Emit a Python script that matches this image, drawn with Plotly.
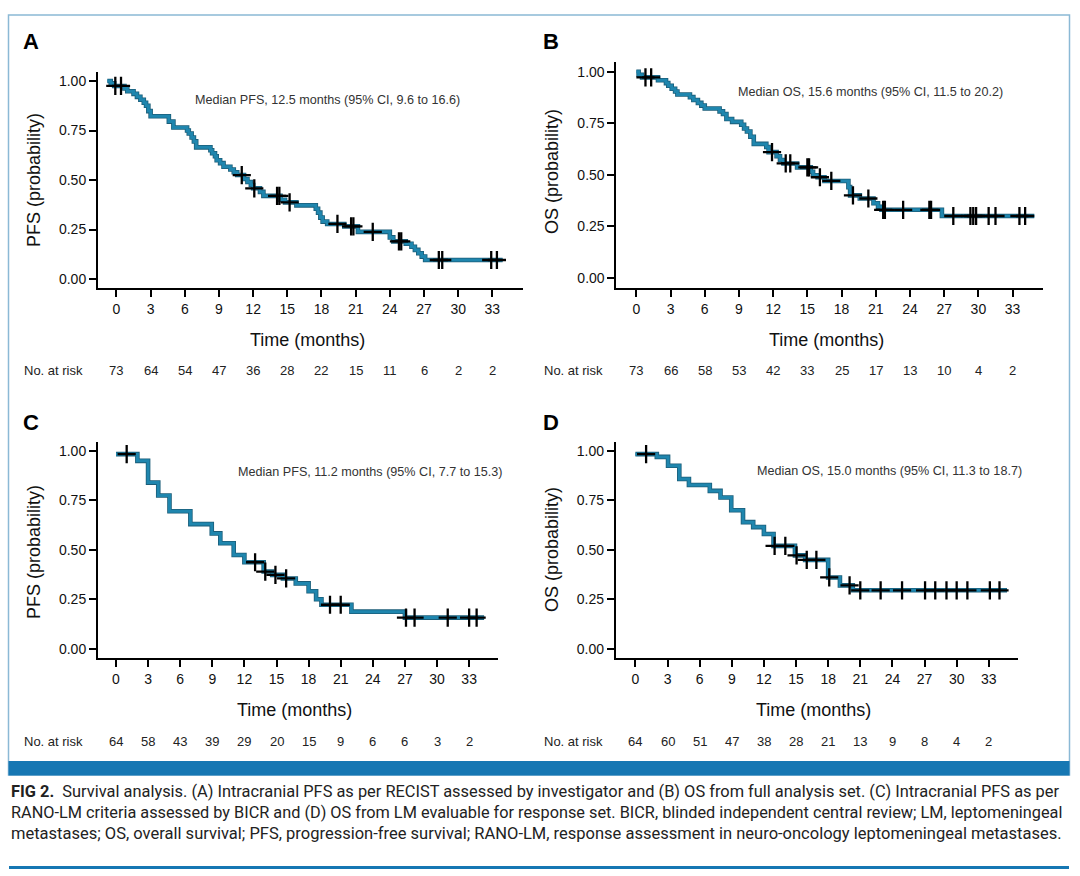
import plotly.graph_objects as go
import numpy as np

# ---------------- data ----------------
TICKS = list(range(0, 34, 3))

A_time = [-0.8, -0.5, -0.2, 0.7, 0.95, 1.5, 1.8, 2.1, 2.4, 2.6, 2.8, 3.0, 4.6, 5.0, 6.2, 6.35, 6.6, 6.8, 7.0,
          8.25, 8.4, 8.65, 8.8, 9.1, 9.4, 10.0, 10.3, 10.6, 11.2, 11.5, 11.8, 12.0, 12.6, 12.9, 14.4, 14.8, 15.8,
          17.5, 17.7, 17.9, 18.1, 18.5, 20.0, 21.2, 24.0, 24.3, 25.4, 25.9, 26.2, 26.5, 26.8, 27.1]
A_surv = [1.0, 0.988, 0.975, 0.962, 0.948, 0.935, 0.92, 0.905, 0.89, 0.875, 0.848, 0.822, 0.795, 0.765, 0.75, 0.735,
          0.715, 0.695, 0.665, 0.65, 0.635, 0.62, 0.60, 0.585, 0.567, 0.553, 0.539, 0.525, 0.505, 0.49, 0.475, 0.458,
          0.44, 0.42, 0.40, 0.387, 0.372, 0.355, 0.335, 0.31, 0.29, 0.278, 0.266, 0.238, 0.21, 0.19, 0.178, 0.163,
          0.147, 0.13, 0.113, 0.096]
A_censor = [-0.1, 0.4, 11.0, 12.1, 14.1, 14.3, 15.2, 19.4, 20.6, 20.8, 22.5, 24.8, 25.0, 28.3, 28.6, 32.9, 33.4]
A_end = 33.9
A_risk = [73, 64, 54, 47, 36, 28, 22, 15, 11, 6, 2, 2]

B_time = [0, 0.2, 0.5, 1.9, 2.6, 2.8, 3.1, 3.4, 3.6, 4.7, 5.0, 5.4, 5.7, 6.0, 7.3, 7.6, 7.9, 8.4, 9.2, 9.45, 9.7,
          10.0, 10.3, 11.4, 11.6, 12.3, 12.6, 12.9, 14.1, 15.3, 15.5, 15.9, 16.5, 18.6, 18.75, 19.6, 20.8, 21.2,
          21.5, 26.8]
B_surv = [1.0, 0.986, 0.973, 0.959, 0.945, 0.932, 0.918, 0.904, 0.89, 0.877, 0.863, 0.849, 0.836, 0.822, 0.808,
          0.795, 0.771, 0.757, 0.743, 0.725, 0.71, 0.685, 0.65, 0.635, 0.61, 0.59, 0.572, 0.555, 0.536, 0.515,
          0.498, 0.488, 0.47, 0.44, 0.40, 0.385, 0.362, 0.345, 0.33, 0.30]
B_censor = [0.8, 1.3, 11.9, 13.1, 13.5, 15.0, 15.15, 16.1, 17.1, 19.0, 20.35, 21.65, 21.8, 23.4, 25.7, 25.85,
            27.8, 29.3, 29.55, 29.8, 30.9, 31.5, 33.6, 34.1]
B_end = 34.9
B_risk = [73, 66, 58, 53, 42, 33, 25, 17, 13, 10, 4, 2]

C_time = [0, 2.0, 3.0, 3.95, 5.0, 6.95, 8.95, 9.75, 11.0, 12.0, 13.8, 14.6, 15.6, 16.8, 18.0, 18.7, 19.2, 22.0, 27.0]
C_surv = [0.984, 0.95, 0.84, 0.775, 0.695, 0.63, 0.583, 0.533, 0.474, 0.437, 0.39, 0.373, 0.355, 0.33, 0.29,
          0.25, 0.222, 0.187, 0.157]
C_censor = [1.0, 13.0, 13.95, 14.9, 15.9, 20.0, 21.0, 27.1, 27.9, 31.0, 33.0, 33.7]
C_end = 34.4
C_risk = [64, 58, 43, 39, 29, 20, 15, 9, 6, 6, 3, 2]

D_time = [0, 2.0, 3.05, 4.1, 5.0, 6.95, 7.95, 8.95, 10.05, 11.0, 12.0, 12.9, 14.9, 15.85, 18.0, 19.1, 20.3]
D_surv = [0.984, 0.97, 0.925, 0.858, 0.828, 0.798, 0.765, 0.70, 0.64, 0.615, 0.58, 0.52, 0.472, 0.449, 0.36,
          0.32, 0.295]
D_censor = [1.0, 13.0, 14.0, 15.05, 16.0, 16.9, 18.1, 20.0, 21.0, 22.9, 24.9, 27.05, 28.0, 29.05, 30.0, 31.0,
            33.1, 34.0]
D_end = 34.7
D_risk = [64, 60, 51, 47, 38, 28, 21, 13, 9, 8, 4, 2]

MEDIANS = ["Median PFS, 12.5 months (95% CI, 9.6 to 16.6)",
           "Median OS, 15.6 months (95% CI, 11.5 to 20.2)",
           "Median PFS, 11.2 months (95% CI, 7.7 to 15.3)",
           "Median OS, 15.0 months (95% CI, 11.3 to 18.7)"]
YTITLES = ["PFS (probability)", "OS (probability)", "PFS (probability)", "OS (probability)"]
LETTERS = ["A", "B", "C", "D"]
CAPTION = [
    "<b>FIG 2.</b>\u00a0 Survival analysis. (A) Intracranial PFS as per RECIST assessed by investigator and (B) OS from full analysis set. (C) Intracranial PFS as per",
    "RANO-LM criteria assessed by BICR and (D) OS from LM evaluable for response set. BICR, blinded independent central review; LM, leptomeningeal",
    "metastases; OS, overall survival; PFS, progression-free survival; RANO-LM, response assessment in neuro-oncology leptomeningeal metastases.",
]

# ---------------- layout geometry (pixels) ----------------
W, H = 1080, 876
FONT = "Liberation Sans, Arial, Helvetica, sans-serif"
CURVE = "#1f86ae"
EDGE = "#1b5d78"
BLUE = "#1677b3"

panels = [
    dict(t=A_time, s=A_surv, c=A_censor, end=A_end, risk=A_risk,
         px=(98, 523), py=(71.7, 288.3), xr=[-1.62, 35.69], yr=[-0.047, 1.047],
         ann=(327, 99.5), yt=(34, 180), let=(31, 42), ry=370, rl=22),
    dict(t=B_time, s=B_surv, c=B_censor, end=B_end, risk=B_risk,
         px=(616.4, 1042.8), py=(61.7, 288.3), xr=[-1.75, 35.65], yr=[-0.051, 1.049],
         ann=(870.6, 92.5), yt=(552, 172), let=(551, 42), ry=370, rl=542),
    dict(t=C_time, s=C_surv, c=C_censor, end=C_end, risk=C_risk,
         px=(98, 497.6), py=(441.7, 658.3), xr=[-1.68, 35.66], yr=[-0.049, 1.047],
         ann=(370.3, 472), yt=(34, 552), let=(31, 422), ry=741, rl=22),
    dict(t=D_time, s=D_surv, c=D_censor, end=D_end, risk=D_risk,
         px=(615.8, 1017.6), py=(441.7, 658.3), xr=[-1.83, 35.69], yr=[-0.049, 1.047],
         ann=(889.5, 470.5), yt=(552, 550), let=(551, 422), ry=741, rl=542),
]


def fx(p):
    return p / W


def fy(p):
    return 1 - p / H


fig = go.Figure()
layout = dict(width=W, height=H, margin=dict(l=0, r=0, t=0, b=0),
              paper_bgcolor="white", plot_bgcolor="rgba(0,0,0,0)", showlegend=False,
              font=dict(family=FONT, color="#111"))
annotations = []
shapes = []

for i, p in enumerate(panels):
    n = i + 1
    xa = "x" if n == 1 else f"x{n}"
    ya = "y" if n == 1 else f"y{n}"
    xs = list(p["t"]) + [p["end"]]
    ys = list(p["s"]) + [p["s"][-1]]
    fig.add_trace(go.Scatter(x=xs, y=ys, mode="lines", line=dict(shape="hv", color=EDGE, width=4.6),
                             xaxis=xa, yaxis=ya, hoverinfo="skip"))
    fig.add_trace(go.Scatter(x=xs, y=ys, mode="lines", line=dict(shape="hv", color=CURVE, width=3.0),
                             xaxis=xa, yaxis=ya, hoverinfo="skip"))
    tt = np.array(p["t"])
    idx = np.searchsorted(tt, np.array(p["c"]), side="right") - 1
    cy = [p["s"][max(k, 0)] for k in idx]
    fig.add_trace(go.Scatter(x=p["c"], y=cy, mode="markers",
                             marker=dict(symbol="cross-thin", size=13, line=dict(color="black", width=2.3)),
                             xaxis=xa, yaxis=ya, hoverinfo="skip"))

    layout["xaxis" if n == 1 else f"xaxis{n}"] = dict(
        domain=[fx(p["px"][0]), fx(p["px"][1])], range=p["xr"], anchor=ya,
        showline=True, linecolor="black", linewidth=2, ticks="outside", ticklen=7, tickwidth=2,
        tickcolor="black", tickvals=TICKS, ticktext=[str(v) for v in TICKS],
        tickfont=dict(size=14, color="#111", family=FONT), showgrid=False, zeroline=False, fixedrange=True)
    layout["yaxis" if n == 1 else f"yaxis{n}"] = dict(
        domain=[fy(p["py"][1]), fy(p["py"][0])], range=p["yr"], anchor=xa,
        showline=True, linecolor="black", linewidth=2, ticks="outside", ticklen=7, tickwidth=2,
        tickcolor="black", tickvals=[0, 0.25, 0.5, 0.75, 1.0],
        ticktext=["0.00", "0.25", "0.50", "0.75", "1.00"],
        tickfont=dict(size=14, color="#111", family=FONT), showgrid=False, zeroline=False, fixedrange=True)

    annotations.append(dict(text=f"<b>{LETTERS[i]}</b>", x=fx(p["let"][0]), y=fy(p["let"][1]),
                            xref="paper", yref="paper", showarrow=False, xanchor="center", yanchor="middle",
                            font=dict(size=22, color="black", family=FONT)))
    annotations.append(dict(text=MEDIANS[i], x=fx(p["ann"][0]), y=fy(p["ann"][1]), xref="paper", yref="paper",
                            showarrow=False, xanchor="center", yanchor="middle",
                            font=dict(size=12.6, color="#333", family=FONT)))
    annotations.append(dict(text=YTITLES[i], x=fx(p["yt"][0]), y=fy(p["yt"][1]), xref="paper", yref="paper",
                            showarrow=False, xanchor="center", yanchor="middle", textangle=-90,
                            font=dict(size=18, color="#111", family=FONT)))
    annotations.append(dict(text="Time (months)", x=(p["xr"][0] + p["xr"][1]) / 2 - 0.3, y=fy(p["py"][1] + 52),
                            xref=xa, yref="paper", showarrow=False, xanchor="center", yanchor="middle",
                            font=dict(size=18, color="#111", family=FONT)))
    annotations.append(dict(text="No. at risk", x=fx(p["rl"]), y=fy(p["ry"]), xref="paper", yref="paper",
                            showarrow=False, xanchor="left", yanchor="middle",
                            font=dict(size=13, color="#222", family=FONT)))
    for tv, rv in zip(TICKS, p["risk"]):
        annotations.append(dict(text=str(rv), x=tv, y=fy(p["ry"]), xref=xa, yref="paper", showarrow=False,
                                xanchor="center", yanchor="middle", font=dict(size=13, color="#222", family=FONT)))

shapes.append(dict(type="rect", xref="paper", yref="paper", x0=fx(8.5), x1=fx(1069.5), y0=fy(775), y1=fy(15),
                   line=dict(color="#8bb9d5", width=1.5), fillcolor="rgba(0,0,0,0)", layer="below"))
shapes.append(dict(type="rect", xref="paper", yref="paper", x0=fx(8.5), x1=fx(1069.5), y0=fy(775.5), y1=fy(761),
                   line=dict(width=0), fillcolor=BLUE))
shapes.append(dict(type="line", xref="paper", yref="paper", x0=fx(9), x1=fx(1069), y0=fy(867.5), y1=fy(867.5),
                   line=dict(color=BLUE, width=3)))

CAP_SIZES = [16.4, 16.3, 16.5]
for k, line in enumerate(CAPTION):
    annotations.append(dict(text=line, x=fx(9.3), y=fy(791 + 21 * k), xref="paper", yref="paper",
                            showarrow=False, xanchor="left", yanchor="middle",
                            font=dict(size=CAP_SIZES[k], color="#222", family="Roboto, Liberation Sans, sans-serif")))

layout["annotations"] = annotations
layout["shapes"] = shapes
fig.update_layout(**layout)

fig.write_html("out.html", config={"displayModeBar": False},
               post_script="document.body.style.margin='0';document.body.style.overflow='hidden';")
